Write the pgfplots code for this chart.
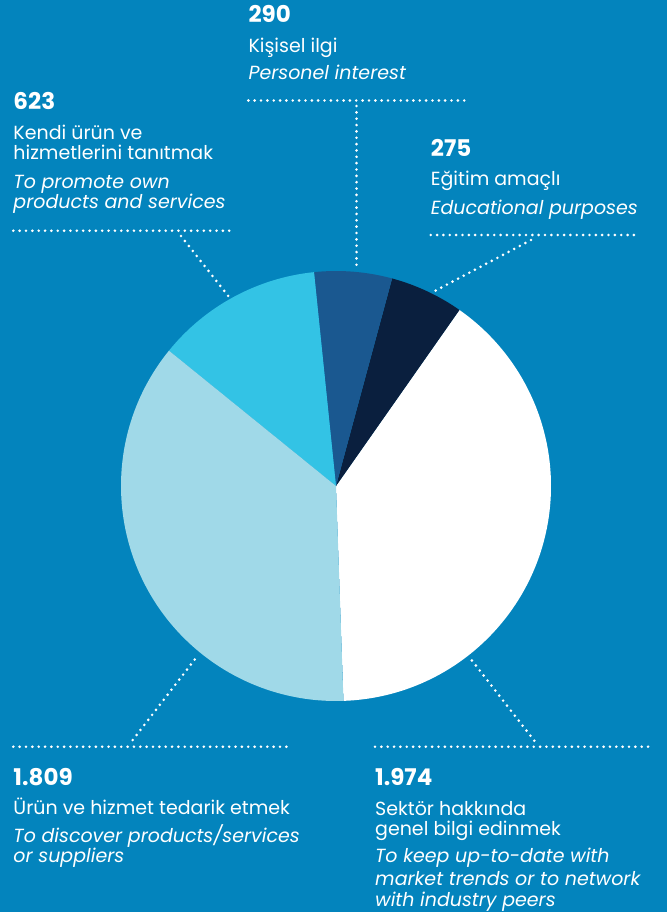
\documentclass[border=0pt]{standalone}
\usepackage{fontspec}
\setmainfont{Poppins}
\usepackage{pgfplots}
\usepackage{pgfplotstable}
\pgfplotsset{compat=1.18}

\definecolor{bg}{HTML}{0384BD}
\definecolor{navy}{HTML}{0A1F3E}
\definecolor{midblue}{HTML}{1A5890}
\definecolor{cyanp}{HTML}{33C3E5}
\definecolor{lightp}{HTML}{A0D9E8}

% slices, counter-clockwise from the bottom
\pgfplotstableread{
value
1974
275
290
623
1809
}\piedata

\newcommand\getv[2]{\pgfplotstablegetelem{#1}{value}\of\piedata\let#2\pgfplotsretval}
\getv{0}\vA \getv{1}\vB \getv{2}\vC \getv{3}\vD \getv{4}\vE
\pgfmathsetmacro\total{\vA+\vB+\vC+\vD+\vE}
\pgfmathsetmacro\aA{-88}
\pgfmathsetmacro\aB{\aA+\vA/\total*360}
\pgfmathsetmacro\aC{\aB+\vB/\total*360}
\pgfmathsetmacro\aD{\aC+\vC/\total*360}
\pgfmathsetmacro\aE{\aD+\vD/\total*360}
\pgfmathsetmacro\aF{\aE+\vE/\total*360}

\newcommand\num{\fontsize{23bp}{26bp}\selectfont\bfseries}
\newcommand\lab{\fontsize{19bp}{22bp}\selectfont}
\newcommand\eng{\fontsize{19bp}{22bp}\selectfont\itshape}

\tikzset{
  dots/.style={white, line width=2.9bp, line cap=round, dash pattern=on 0bp off 6.35bp},
  txt/.style={anchor=base west, inner sep=0pt, text=white},
}

\newcommand\slice[3]{\fill[#1] (axis cs:336,486) -- ++(#2:215bp) arc[start angle=#2, end angle=#3, radius=215bp] -- cycle;}

\begin{document}
\begin{tikzpicture}
\begin{axis}[
  scale only axis, width=667bp, height=912bp,
  xmin=0, xmax=667, ymin=0, ymax=912, y dir=reverse,
  enlargelimits=false, hide axis, clip=false,
]
\fill[bg] (axis cs:0,0) rectangle (axis cs:667,912);

\slice{white}{\aA}{\aB}
\slice{navy}{\aB}{\aC}
\slice{midblue}{\aC}{\aD}
\slice{cyanp}{\aD}{\aE}
\slice{lightp}{\aE}{\aF}

% leader lines
\draw[dots] (axis cs:248.3,100.5) -- (axis cs:470,100.5);
\draw[dots] (axis cs:356.5,106) -- (axis cs:356.5,271);
\draw[dots] (axis cs:13.3,230.7) -- (axis cs:235,230.7);
\draw[dots] (axis cs:181,236) -- (axis cs:229,297);
\draw[dots] (axis cs:430.7,235) -- (axis cs:640,235);
\draw[dots] (axis cs:531,240) -- (axis cs:433,292);
\draw[dots] (axis cs:13.3,746.7) -- (axis cs:291.7,746.7);
\draw[dots] (axis cs:132.7,740) -- (axis cs:196.7,657);
\draw[dots] (axis cs:375,746.7) -- (axis cs:653.3,746.7);
\draw[dots] (axis cs:534.3,740.7) -- (axis cs:470,658);

% 290
\node[txt, font=\num] at (axis cs:248.3,22.3) {290};
\node[txt, font=\lab] at (axis cs:248.3,52.7) {Kişisel ilgi};
\node[txt, font=\eng] at (axis cs:248.3,80) {Personel interest};
% 623
\node[txt, font=\num] at (axis cs:13.3,110) {623};
\node[txt, font=\lab] at (axis cs:13.3,139.3) {Kendi ürün ve};
\node[txt, font=\lab] at (axis cs:13.3,160) {hizmetlerini tanıtmak};
\node[txt, font=\eng] at (axis cs:13.3,188.3) {To promote own};
\node[txt, font=\eng] at (axis cs:13.3,209) {products and services};
% 275
\node[txt, font=\num] at (axis cs:430.7,156.7) {275};
\node[txt, font=\lab] at (axis cs:430.7,186) {Eğitim amaçlı};
\node[txt, font=\eng] at (axis cs:430.7,214) {Educational purposes};
% 1.809
\node[txt, font=\num] at (axis cs:13.3,785.7) {1.809};
\node[txt, font=\lab] at (axis cs:13.3,814.3) {Ürün ve hizmet tedarik etmek};
\node[txt, font=\eng] at (axis cs:13.3,842.7) {To discover products/services};
\node[txt, font=\eng] at (axis cs:13.3,862.7) {or suppliers};
% 1.974
\node[txt, font=\num] at (axis cs:375,785.7) {1.974};
\node[txt, font=\lab] at (axis cs:375,815) {Sektör hakkında};
\node[txt, font=\lab] at (axis cs:375,835) {genel bilgi edinmek};
\node[txt, font=\eng] at (axis cs:375,862.7) {To keep up-to-date with};
\node[txt, font=\eng] at (axis cs:375,885) {market trends or to network};
\node[txt, font=\eng] at (axis cs:375,906) {with industry peers};
\end{axis}
\end{tikzpicture}
\end{document}
